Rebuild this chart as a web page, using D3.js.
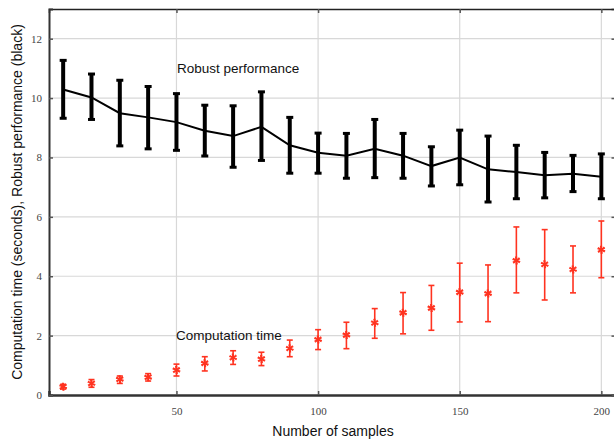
<!DOCTYPE html>
<html lang="en">
<head>
<meta charset="UTF-8">
<script src="https://d3js.org/d3.v7.min.js"></script>
<style>
    body { margin: 0; background: #fff; }
    svg { display: block; }
</style>
</head>
<body>
<svg width="614" height="440"></svg>
<script>
    // sample counts
    const samples = [10, 20, 30, 40, 50, 60, 70, 80, 90, 100, 110, 120, 130, 140, 150, 160, 170, 180, 190, 200];

    // robust performance (black)
    const robustMean = [10.29, 10.02, 9.49, 9.35, 9.19, 8.90, 8.72, 9.03, 8.41, 8.16, 8.06, 8.29, 8.06, 7.71, 8.00, 7.60, 7.51, 7.40, 7.45, 7.35];
    const robustHigh = [11.27, 10.81, 10.60, 10.39, 10.15, 9.76, 9.74, 10.21, 9.35, 8.82, 8.81, 9.28, 8.81, 8.36, 8.92, 8.72, 8.41, 8.17, 8.07, 8.12];
    const robustLow  = [9.32, 9.28, 8.39, 8.29, 8.24, 8.05, 7.67, 7.90, 7.47, 7.47, 7.30, 7.32, 7.30, 7.04, 7.08, 6.50, 6.61, 6.64, 6.85, 6.61];

    // computation time (red)
    const compMean = [0.28, 0.39, 0.53, 0.60, 0.84, 1.07, 1.26, 1.21, 1.57, 1.87, 2.02, 2.43, 2.77, 2.93, 3.46, 3.42, 4.53, 4.40, 4.23, 4.89];
    const compHigh = [0.36, 0.52, 0.64, 0.72, 1.04, 1.29, 1.49, 1.44, 1.85, 2.20, 2.45, 2.91, 3.45, 3.69, 4.44, 4.38, 5.66, 5.57, 5.02, 5.86];
    const compLow  = [0.20, 0.26, 0.39, 0.47, 0.64, 0.81, 1.03, 0.99, 1.29, 1.53, 1.56, 1.91, 2.06, 2.18, 2.46, 2.47, 3.44, 3.20, 3.44, 3.95];

    const xTicks = [50, 100, 150, 200];
    const yTicks = [0, 2, 4, 6, 8, 10, 12];

    const svg = d3.select('svg');
    const plotLeft = 49, plotRight = 615.5, plotTop = 9, plotBottom = 395;

    const x = d3.scaleLinear().domain([5, 205]).range([plotLeft, plotRight]);
    const y = d3.scaleLinear().domain([0, 13]).range([plotBottom, plotTop]);

    const red = '#ff3320';
    const tickFont = '"Liberation Serif", "DejaVu Serif", serif';
    const labelFont = '"Liberation Sans", Arial, sans-serif';

    // grid lines
    svg.append('g').selectAll('line').data(yTicks.filter(d => d > 0)).join('line')
        .attr('x1', plotLeft).attr('x2', plotRight)
        .attr('y1', d => y(d)).attr('y2', d => y(d))
        .attr('stroke', '#d8d8d8').attr('stroke-width', 1.2);
    svg.append('g').selectAll('line').data(xTicks).join('line')
        .attr('x1', d => x(d)).attr('x2', d => x(d))
        .attr('y1', plotTop).attr('y2', plotBottom)
        .attr('stroke', '#d8d8d8').attr('stroke-width', 1.2);

    // axes via d3
    const xAxis = svg.append('g')
        .attr('transform', `translate(0,${plotBottom})`)
        .call(d3.axisBottom(x).tickValues(xTicks).tickSize(-4).tickPadding(12));
    const xTop = svg.append('g')
        .attr('transform', `translate(0,${plotTop})`)
        .call(d3.axisTop(x).tickValues(xTicks).tickSize(-4).tickFormat(''));
    const yAxis = svg.append('g')
        .attr('transform', `translate(${plotLeft},0)`)
        .call(d3.axisLeft(y).tickValues(yTicks).tickSize(-4).tickPadding(7));
    const yRight = svg.append('g')
        .attr('transform', `translate(${plotRight},0)`)
        .call(d3.axisRight(y).tickValues(yTicks).tickSize(-4).tickFormat(''));

    [xAxis, xTop, yAxis, yRight].forEach(g => {
        g.selectAll('.tick line').attr('stroke', '#555').attr('stroke-width', 1.5);
        g.selectAll('.tick text')
            .attr('font-family', tickFont).attr('font-size', 11).attr('fill', '#444');
    });
    xAxis.select('.domain').attr('stroke', '#333').attr('stroke-width', 2.5);
    yAxis.select('.domain').attr('stroke', '#333').attr('stroke-width', 2);
    xTop.select('.domain').attr('stroke', '#222').attr('stroke-width', 1.5);
    yRight.select('.domain').attr('stroke', '#222').attr('stroke-width', 1.5);

    // robust performance: error bars
    const robust = samples.map((s, i) => ({s, m: robustMean[i], lo: robustLow[i], hi: robustHigh[i]}));
    const rb = svg.append('g');
    rb.selectAll('line.bar').data(robust).join('line').attr('class', 'bar')
        .attr('x1', d => x(d.s)).attr('x2', d => x(d.s))
        .attr('y1', d => y(d.lo)).attr('y2', d => y(d.hi))
        .attr('stroke', '#000').attr('stroke-width', 4);
    rb.selectAll('line.capHi').data(robust).join('line').attr('class', 'capHi')
        .attr('x1', d => x(d.s) - 3.5).attr('x2', d => x(d.s) + 3.5)
        .attr('y1', d => y(d.hi)).attr('y2', d => y(d.hi))
        .attr('stroke', '#000').attr('stroke-width', 3);
    rb.selectAll('line.capLo').data(robust).join('line').attr('class', 'capLo')
        .attr('x1', d => x(d.s) - 3.5).attr('x2', d => x(d.s) + 3.5)
        .attr('y1', d => y(d.lo)).attr('y2', d => y(d.lo))
        .attr('stroke', '#000').attr('stroke-width', 3);
    rb.append('path').datum(robust)
        .attr('d', d3.line().x(d => x(d.s)).y(d => y(d.m)))
        .attr('fill', 'none').attr('stroke', '#000').attr('stroke-width', 2);

    // computation time: red error bars with star markers
    const comp = samples.map((s, i) => ({s, m: compMean[i], lo: compLow[i], hi: compHigh[i]}));
    const cb = svg.append('g');
    cb.selectAll('line.bar').data(comp).join('line').attr('class', 'bar')
        .attr('x1', d => x(d.s)).attr('x2', d => x(d.s))
        .attr('y1', d => y(d.lo)).attr('y2', d => y(d.hi))
        .attr('stroke', red).attr('stroke-width', 1.6);
    ['lo', 'hi'].forEach(k => {
        cb.selectAll('line.cap' + k).data(comp).join('line').attr('class', 'cap' + k)
            .attr('x1', d => x(d.s) - 3).attr('x2', d => x(d.s) + 3)
            .attr('y1', d => y(d[k])).attr('y2', d => y(d[k]))
            .attr('stroke', red).attr('stroke-width', 1.6);
    });
    const star = d3.symbol().type(d3.symbolAsterisk).size(45);
    cb.selectAll('path.star').data(comp).join('path').attr('class', 'star')
        .attr('transform', d => `translate(${x(d.s)},${y(d.m)})`)
        .attr('d', star)
        .attr('fill', 'none').attr('stroke', red).attr('stroke-width', 1.6);
    cb.selectAll('path.star2').data(comp).join('path').attr('class', 'star2')
        .attr('transform', d => `translate(${x(d.s)},${y(d.m)}) rotate(45)`)
        .attr('d', star)
        .attr('fill', 'none').attr('stroke', red).attr('stroke-width', 1);

    // annotations
    svg.append('text').attr('x', 177).attr('y', 73)
        .attr('font-family', labelFont).attr('font-size', 13.5).attr('fill', '#111')
        .text('Robust performance');
    svg.append('text').attr('x', 176).attr('y', 340)
        .attr('font-family', labelFont).attr('font-size', 13.5).attr('fill', '#111')
        .text('Computation time');

    // axis titles
    svg.append('text').attr('x', 333).attr('y', 436)
        .attr('text-anchor', 'middle')
        .attr('font-family', labelFont).attr('font-size', 14).attr('fill', '#111')
        .text('Number of samples');
    svg.append('text')
        .attr('transform', 'translate(22,202) rotate(-90)')
        .attr('text-anchor', 'middle')
        .attr('font-family', labelFont).attr('font-size', 14).attr('fill', '#111')
        .text('Computation time (seconds), Robust performance (black)');
</script>
</body>
</html>
